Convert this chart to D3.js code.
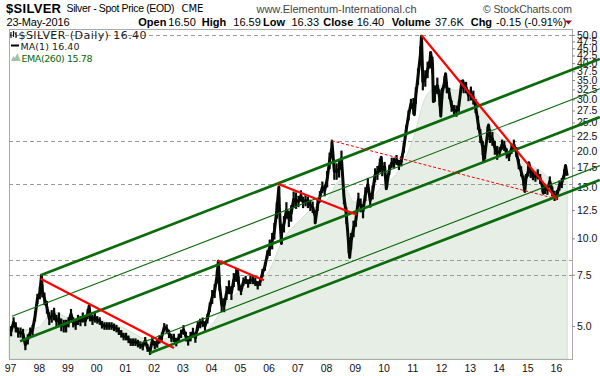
<!DOCTYPE html>
<html>
<head>
<meta charset="utf-8">
<script src="https://cdn.jsdelivr.net/npm/d3@7"></script>
<style>
  body { margin: 0; background: #fff; }
  svg { display: block; font-family: "Liberation Sans", Arial, sans-serif; }
</style>
</head>
<body>
<svg width="600" height="376"></svg>
<script>
// ---- data ----
const years = [1997, 1998, 1999, 2000, 2001, 2002, 2003, 2004, 2005, 2006,
               2007, 2008, 2009, 2010, 2011, 2012, 2013, 2014, 2015, 2016];

// mid-month silver levels, one row per year (Jan..Dec)
const monthly = [
  [4.80, 5.15, 4.95, 4.75, 4.75, 4.70, 4.30, 4.50, 4.75, 4.85, 5.40, 6.20],
  [6.50, 6.60, 6.20, 5.80, 5.30, 5.40, 5.50, 5.20, 5.30, 5.05, 5.00, 5.00],
  [5.15, 5.50, 5.15, 5.05, 5.25, 5.20, 5.35, 5.20, 5.50, 5.40, 5.25, 5.35],
  [5.25, 5.20, 5.05, 5.00, 5.00, 5.00, 5.00, 4.95, 4.90, 4.80, 4.70, 4.60],
  [4.60, 4.50, 4.40, 4.40, 4.40, 4.35, 4.30, 4.25, 4.45, 4.20, 4.10, 4.45],
  [4.30, 4.35, 4.50, 4.60, 4.95, 4.90, 4.70, 4.55, 4.55, 4.40, 4.55, 4.70],
  [4.85, 4.60, 4.45, 4.60, 4.75, 4.55, 5.00, 5.10, 5.15, 5.00, 5.30, 5.80],
  [6.30, 6.60, 7.40, 7.00, 5.90, 5.90, 6.50, 6.80, 6.50, 7.20, 7.50, 7.00],
  [6.60, 7.10, 7.20, 7.00, 7.20, 7.20, 7.10, 6.90, 7.10, 7.60, 8.00, 8.80],
  [9.30, 9.80, 10.6, 12.5, 13.0, 10.5, 11.2, 12.5, 11.7, 12.2, 13.6, 13.5],
  [13.4, 14.0, 13.3, 13.5, 13.3, 13.0, 12.8, 11.9, 13.0, 13.9, 15.0, 14.6],
  [16.0, 18.5, 20.5, 17.0, 17.0, 17.3, 18.8, 14.0, 12.0, 9.50, 9.80, 10.8],
  [11.6, 13.6, 13.0, 12.4, 14.2, 15.3, 13.5, 14.4, 16.5, 16.8, 17.8, 17.3],
  [17.6, 15.6, 17.2, 18.2, 18.2, 18.6, 17.9, 18.4, 20.5, 23.5, 26.5, 29.0],
  [28.5, 31.0, 36.0, 43.0, 34.5, 35.5, 38.0, 41.0, 39.5, 31.5, 33.5, 30.5],
  [31.5, 34.5, 33.0, 31.5, 28.5, 27.5, 27.4, 28.5, 33.5, 33.0, 33.0, 31.0],
  [31.5, 30.5, 28.5, 25.0, 22.5, 20.5, 19.8, 23.0, 22.5, 22.0, 20.5, 19.7],
  [19.8, 21.0, 20.8, 19.6, 19.2, 20.3, 21.0, 19.8, 18.0, 17.0, 15.8, 16.0],
  [17.0, 16.8, 16.5, 16.3, 16.6, 16.0, 15.0, 14.8, 14.7, 15.7, 14.5, 14.0],
  [14.1, 15.2, 15.5, 16.6]
];

// typical half-width of the daily high/low band in each year (fraction of price)
const bandHalf = [0.040, 0.050, 0.040, 0.030, 0.030, 0.033, 0.038, 0.055, 0.033, 0.065,
                  0.045, 0.065, 0.055, 0.040, 0.065, 0.045, 0.055, 0.040, 0.040, 0.040];

// swing highs / lows between the mid-month points
const swingDates = ['1997-01-02', '1998-02-05', '1999-10-04', '2004-04-02', '2004-12-02',
  '2006-05-11', '2006-06-13', '2007-08-16', '2008-03-17', '2008-10-27', '2009-12-02',
  '2010-02-05', '2011-01-27', '2011-04-28', '2011-08-22', '2011-09-26', '2011-12-29',
  '2012-02-28', '2012-10-04', '2013-06-27', '2013-08-27', '2014-12-01', '2015-01-22',
  '2015-07-24', '2015-12-17', '2016-05-02', '2016-05-23'];
const swingValues = [4.8, 7.45, 5.85, 8.35, 7.8,
  15.0, 9.6, 11.3, 21.3, 8.6, 19.0,
  14.8, 26.6, 49.5, 43.5, 29.5, 26.3,
  36.8, 34.8, 18.5, 24.5, 14.5, 18.2,
  14.3, 13.8, 17.8, 16.4];

// EMA(260) shaded area
const emaDates = ['1996-12-20', '1997-07-01', '1998-01-01', '1998-07-01', '1999-01-01', '1999-07-01',
  '2000-01-01', '2000-07-01', '2001-01-01', '2001-07-01', '2002-01-01', '2002-07-01',
  '2003-01-01', '2003-07-01', '2004-01-01', '2004-07-01', '2005-01-01', '2005-07-01',
  '2006-01-01', '2006-07-01', '2007-01-01', '2007-07-01', '2008-01-01', '2008-07-01',
  '2009-01-01', '2009-07-01', '2010-01-01', '2010-07-01', '2011-01-01', '2011-07-01',
  '2012-01-01', '2012-07-01', '2013-01-01', '2013-07-01', '2014-01-01', '2014-07-01',
  '2015-01-01', '2015-07-01', '2016-01-01', '2016-05-23'];
const emaValues = [4.95, 4.85, 4.95, 5.6, 5.35, 5.3,
  5.3, 5.1, 4.9, 4.6, 4.45, 4.55,
  4.6, 4.65, 5.0, 5.95, 6.6, 7.0,
  7.7, 9.9, 11.3, 12.6, 13.4, 15.8,
  13.3, 13.6, 15.3, 16.9, 21.5, 31.0,
  33.5, 32.3, 32.5, 26.8, 22.5, 21.0,
  18.3, 17.0, 15.5, 15.78];

// rising channel lines (start point; all end at the same date)
const channelStartDates = ['1998-01-25', '1997-01-26', '1997-05-08', '2001-07-09', '2001-11-14'];
const channelStartValues = [7.47, 5.40, 4.43, 4.35, 4.04];
const channelEndDate = '2017-07-12';
const channelEndValues = [41.35, 32.66, 26.1, 17.78, 15.87];

// falling red trendlines
const trendStartDates = ['1998-01-25', '2004-03-25', '2006-04-25', '2011-04-27'];
const trendStartValues = [7.27, 8.4, 15.4, 49.9];
const trendEndDates = ['2002-09-15', '2005-11-02', '2009-01-24', '2016-01-16'];
const trendEndValues = [4.2, 7.18, 12.06, 13.58];
const dashedTrendDates = ['2008-03-10', '2015-11-22'];
const dashedTrendValues = [21.67, 13.77];

// horizontal levels
const levels = [49.9, 21.56, 15.35, 8.45, 7.46];

const yTicks = [5, 7.5, 10, 12.5, 15, 17.5, 20, 22.5, 25, 27.5, 30, 32.5, 35,
                37.5, 40, 42.5, 45, 47.5, 50];

// ---- chart ----
const svg = d3.select('svg');
const parse = d3.utcParse('%Y-%m-%d');

const plotLeft = 9, plotRight = 572, plotTop = 29, plotBottom = 359;

const x = d3.scaleUtc()
  .domain([parse('1996-12-19'), parse('2016-07-23')])
  .range([plotLeft, plotRight]);
const y = d3.scaleLog()
  .domain([3.85, 52.4])
  .range([plotBottom, plotTop]);

const price = [];
const bars = [];
monthly.forEach((row, i) => row.forEach((v, m) => {
  const date = new Date(Date.UTC(years[i], m, 15));
  price.push({ date, value: v });
  bars.push({ date, lo: v * (1 - bandHalf[i]), hi: v * (1 + bandHalf[i]) });
}));
swingDates.forEach((d, i) => price.push({ date: parse(d), value: swingValues[i] }));
price.sort((a, b) => a.date - b.date);

const ema = emaDates.map((d, i) => ({ date: parse(d), value: emaValues[i] }));

// EMA area
svg.append('path')
  .attr('d', d3.area()
    .x(d => x(d.date))
    .y0(plotBottom)
    .y1(d => y(d.value))
    .curve(d3.curveMonotoneX)(ema))
  .attr('fill', '#e6eee6')
  .attr('stroke', '#d3e2d3')
  .attr('stroke-width', 1);

// frame
svg.append('rect')
  .attr('x', plotLeft + 0.5).attr('y', plotTop + 0.5)
  .attr('width', plotRight - plotLeft).attr('height', plotBottom - plotTop)
  .attr('fill', 'none').attr('stroke', '#aaaaaa');

// horizontal dashed levels
svg.selectAll('.level').data(levels).enter().append('line')
  .attr('class', 'level')
  .attr('x1', plotLeft).attr('x2', plotRight)
  .attr('y1', d => Math.round(y(d)) + 0.5).attr('y2', d => Math.round(y(d)) + 0.5)
  .attr('stroke', '#9a9a9a')
  .attr('stroke-dasharray', '4,3');

// axes
const yAxisG = svg.append('g')
  .attr('transform', `translate(${plotRight},0)`)
  .call(d3.axisRight(y).tickValues(yTicks).tickFormat(d3.format('.1f')).tickSize(3).tickPadding(2));
yAxisG.select('.domain').remove();
yAxisG.selectAll('line').attr('stroke', '#888');
yAxisG.selectAll('text').attr('font-size', '10.5px').attr('fill', '#111')
  .attr('font-family', '"Liberation Sans", Arial, sans-serif');

const xAxisG = svg.append('g')
  .attr('transform', `translate(0,${plotBottom})`)
  .call(d3.axisBottom(x)
    .tickValues(years.map(yr => new Date(Date.UTC(yr, 0, 1))))
    .tickFormat(d3.utcFormat('%y'))
    .tickSize(0).tickPadding(5.5));
xAxisG.select('.domain').remove();
xAxisG.selectAll('text').attr('font-size', '10.5px').attr('fill', '#111')
  .attr('font-family', '"Liberation Sans", Arial, sans-serif');

// price trace: daily range bars + closing line
svg.append('g').selectAll('line').data(bars).enter().append('line')
  .attr('x1', d => x(d.date)).attr('x2', d => x(d.date))
  .attr('y1', d => y(d.lo)).attr('y2', d => y(d.hi))
  .attr('stroke', '#050a05')
  .attr('stroke-width', 2.2);
svg.append('path')
  .attr('d', d3.line().x(d => x(d.date)).y(d => y(d.value))(price))
  .attr('fill', 'none')
  .attr('stroke', '#050a05')
  .attr('stroke-width', 3)
  .attr('stroke-linejoin', 'round');

// green channel
channelStartDates.forEach((d, i) => {
  svg.append('line')
    .attr('x1', x(parse(d))).attr('y1', y(channelStartValues[i]))
    .attr('x2', x(parse(channelEndDate))).attr('y2', y(channelEndValues[i]))
    .attr('stroke', '#0b6a0b')
    .attr('stroke-width', i % 2 === 0 ? 2.7 : 1.1);
});

// red trendlines
trendStartDates.forEach((d, i) => {
  svg.append('line')
    .attr('x1', x(parse(d))).attr('y1', y(trendStartValues[i]))
    .attr('x2', x(parse(trendEndDates[i]))).attr('y2', y(trendEndValues[i]))
    .attr('stroke', '#ff0000')
    .attr('stroke-width', 2.2);
});
svg.append('line')
  .attr('x1', x(parse(dashedTrendDates[0]))).attr('y1', y(dashedTrendValues[0]))
  .attr('x2', x(parse(dashedTrendDates[1]))).attr('y2', y(dashedTrendValues[1]))
  .attr('stroke', '#ff0000')
  .attr('stroke-width', 1)
  .attr('stroke-dasharray', '3,2');

// header
const head = svg.append('g').attr('fill', '#000');
head.append('text').attr('x', 6).attr('y', 12.5)
  .attr('font-size', '13px').attr('font-weight', 'bold')
  .attr('textLength', 55).text('$SILVER');
head.append('text').attr('x', 66.5).attr('y', 12)
  .attr('font-size', '10.5px').attr('textLength', 108).text('Silver - Spot Price (EOD)');
head.append('text').attr('x', 181.5).attr('y', 12)
  .attr('font-size', '10px').attr('font-family', '"DejaVu Sans", Verdana, sans-serif')
  .text('CME');
head.append('text').attr('x', 256.5).attr('y', 12.5)
  .attr('font-size', '11px').attr('fill', '#444').attr('textLength', 160)
  .text('www.Elementum-International.ch');
head.append('text').attr('x', 483).attr('y', 12.5)
  .attr('font-size', '10.5px').attr('fill', '#444').attr('textLength', 89)
  .text('\u00a9 StockCharts.com');
head.append('text').attr('x', 6.5).attr('y', 26)
  .attr('font-size', '11px').attr('textLength', 63).text('23-May-2016');

const quoteLabels = ['Open', 'High', 'Low', 'Close', 'Volume', 'Chg'];
const quoteValues = ['16.50', '16.59', '16.33', '16.40', '37.6K', '-0.15 (-0.91%)'];
const quoteLabelX = [138.3, 201.7, 263, 323.3, 391.7, 470.7];
const quoteValueX = [168.3, 233.3, 291.5, 356.7, 435, 496];
const quote = head.append('text').attr('y', 26).attr('font-size', '11px');
quoteLabels.forEach((l, i) => {
  quote.append('tspan').attr('x', quoteLabelX[i]).attr('font-weight', 'bold').text(l);
  quote.append('tspan').attr('x', quoteValueX[i]).text(quoteValues[i]);
});
head.append('path').attr('d', 'M565,20.5 L572,20.5 L568.5,24.5 Z').attr('fill', '#8e0c3c');

// legend
const leg = svg.append('g').attr('font-family', '"DejaVu Sans", Verdana, sans-serif');
leg.append('path')
  .attr('d', 'M11,32 V38 M10,35 H11 M13.5,31 V37 M13.5,33 H14.5 M16,32 V38 M15,34 H16 M16,36 H17')
  .attr('stroke', '#111').attr('stroke-width', 1.2).attr('fill', 'none');
leg.append('text').attr('x', 18.5).attr('y', 38.5)
  .attr('font-size', '11px').attr('fill', '#222').attr('textLength', 128)
  .text('$SILVER (Daily) 16.40');
leg.append('line').attr('x1', 11).attr('x2', 19).attr('y1', 45.5).attr('y2', 45.5)
  .attr('stroke', '#000').attr('stroke-width', 2);
leg.append('text').attr('x', 20.5).attr('y', 49.5)
  .attr('font-size', '9.5px').attr('fill', '#222').attr('textLength', 59)
  .text('MA(1) 16.40');
leg.append('path').attr('d', 'M11,61 L13.5,56 L15,58 L17.5,53 L20.5,61 Z')
  .attr('fill', '#9fc49f');
leg.append('text').attr('x', 21.5).attr('y', 61.5)
  .attr('font-size', '9.5px').attr('fill', '#0a640a').attr('textLength', 71)
  .text('EMA(260) 15.78');
</script>
</body>
</html>
